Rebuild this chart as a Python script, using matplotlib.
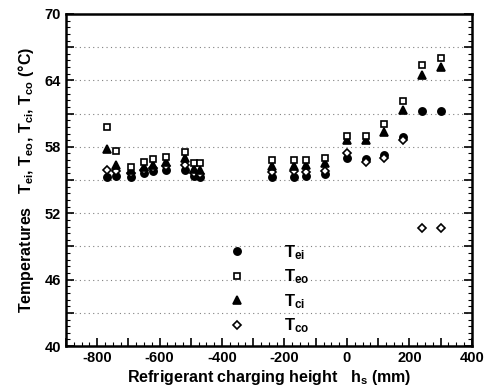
import matplotlib
matplotlib.use("Agg")
import matplotlib.pyplot as plt
import numpy as np
from matplotlib.ticker import FixedLocator, MultipleLocator, FuncFormatter

plt.rcParams['font.family'] = ['Liberation Sans', 'DejaVu Sans']
plt.rcParams['mathtext.fontset'] = 'custom'
plt.rcParams['mathtext.rm'] = 'Liberation Sans:bold'
plt.rcParams['mathtext.bf'] = 'Liberation Sans:bold'
plt.rcParams['mathtext.it'] = 'Liberation Sans:bold'

h = [-770, -740, -690, -650, -620, -580, -520, -490, -470,
     -240, -170, -130, -70, 0, 60, 120, 180, 240, 300]
T_ei = [55.3, 55.4, 55.3, 55.6, 55.8, 55.9, 55.9, 55.4, 55.3,
        55.3, 55.3, 55.4, 55.5, 57.0, 56.9, 57.3, 58.9, 61.2, 61.2]
T_eo = [59.8, 57.6, 56.2, 56.6, 56.9, 57.1, 57.5, 56.5, 56.5,
        56.8, 56.8, 56.8, 57.0, 59.0, 59.0, 60.1, 62.1, 65.4, 66.0]
T_ci = [57.8, 56.4, 55.9, 56.2, 56.4, 56.6, 57.0, 56.0, 55.9,
        56.3, 56.3, 56.4, 56.5, 58.6, 58.6, 59.3, 61.3, 64.5, 65.2]
T_co = [55.9, 55.8, 55.6, 55.9, 56.1, 56.3, 56.4, 55.6, 55.5,
        55.7, 55.8, 55.7, 55.8, 57.4, 56.6, 57.0, 58.6, 50.7, 50.7]

labels = [r'$\mathbf{T_{ei}}$', r'$\mathbf{T_{eo}}$', r'$\mathbf{T_{ci}}$', r'$\mathbf{T_{co}}$']
y_major = [40, 43, 46, 49, 52, 55, 58, 61, 64, 67, 70]
y_labeled = [40, 46, 52, 58, 64, 70]

fig = plt.figure(figsize=(4.92, 3.88), dpi=100)
ax = fig.add_axes([0.134, 0.108, 0.825, 0.856])

ms = 5.2
ax.plot(h, T_ei, 'o', ms=ms, mfc='black', mec='black', mew=1.2, label=labels[0], zorder=3)
ax.plot(h, T_co, 'D', ms=ms - 0.7, mfc='white', mec='black', mew=1.2, label=labels[3], zorder=4)
ax.plot(h, T_ci, '^', ms=ms + 0.2, mfc='black', mec='black', mew=1.2, label=labels[2], zorder=5)
ax.plot(h, T_eo, 's', ms=ms - 0.4, mfc='white', mec='black', mew=1.2, label=labels[1], zorder=6)

handles, labs = ax.get_legend_handles_labels()
order = [0, 3, 2, 1]
leg = ax.legend([handles[i] for i in order], [labs[i] for i in order],
                loc='upper left', bbox_to_anchor=(0.36, 0.355), frameon=False,
                handlelength=1.2, handletextpad=2.2, labelspacing=0.35,
                prop={'size': 12, 'weight': 'bold'})

ax.set_xlim(-900, 400)
ax.set_ylim(40, 70)
ax.xaxis.set_major_locator(MultipleLocator(100))
ax.xaxis.set_minor_locator(MultipleLocator(25))
ax.xaxis.set_major_formatter(FuncFormatter(lambda v, p: f'{int(round(v))}' if int(round(v)) % 200 == 0 else ''))
ax.yaxis.set_major_locator(FixedLocator(y_major))
ax.yaxis.set_minor_locator(FixedLocator(list(np.arange(40, 70.01, 0.6))))
ax.yaxis.set_major_formatter(FuncFormatter(lambda v, p: f'{int(round(v))}' if int(round(v)) in y_labeled else ''))

ax.tick_params(axis='both', which='major', direction='in', length=6, width=1.2,
               labelsize=10.5, right=True, top=False)
ax.tick_params(axis='both', which='minor', direction='in', length=3, width=0.8,
               right=True, top=False)
for lab in ax.get_xticklabels() + ax.get_yticklabels():
    lab.set_fontweight('bold')

for s in ax.spines.values():
    s.set_linewidth(1.8)

ax.grid(True, which='major', axis='y', linestyle=(0, (1, 3)), color='gray', linewidth=0.8)

ax.set_xlabel(r'Refrigerant charging height   h$_\mathbf{s}$ (mm)', fontsize=11.5, fontweight='bold', labelpad=2)
ax.set_ylabel(r'Temperatures   T$_\mathbf{ei}$, T$_\mathbf{eo}$, T$_\mathbf{ci}$, T$_\mathbf{co}$ (°C)',
              fontsize=11.5, fontweight='bold', labelpad=6)

fig.savefig('out.png', dpi=100)
